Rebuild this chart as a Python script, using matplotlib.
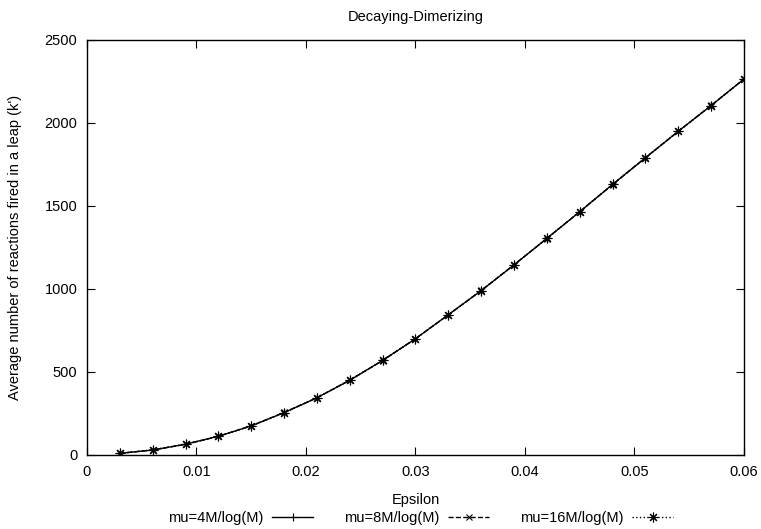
import matplotlib
matplotlib.use("Agg")
import matplotlib.pyplot as plt

plt.rcParams['font.family'] = ['Liberation Sans', 'DejaVu Sans']

# --- data ---
epsilon = [0.003, 0.006, 0.009, 0.012, 0.015, 0.018, 0.021, 0.024, 0.027, 0.030,
           0.033, 0.036, 0.039, 0.042, 0.045, 0.048, 0.051, 0.054, 0.057, 0.060]
mu4 = [10, 30, 65, 113, 175, 255, 345, 450, 570, 700,
       845, 990, 1145, 1305, 1465, 1630, 1790, 1950, 2105, 2265]
mu8 = [10, 30, 64, 112, 176, 256, 344, 451, 569, 701,
       844, 991, 1146, 1304, 1466, 1629, 1791, 1949, 2106, 2264]
mu16 = [10, 31, 65, 113, 175, 255, 345, 450, 570, 700,
        845, 990, 1145, 1305, 1465, 1630, 1790, 1950, 2105, 2265]
labels = ["mu=4M/log(M)", "mu=8M/log(M)", "mu=16M/log(M)"]
xticks = [0, 0.01, 0.02, 0.03, 0.04, 0.05, 0.06]
yticks = [0, 500, 1000, 1500, 2000, 2500]

fig = plt.figure(figsize=(7.61, 5.29), dpi=100)
ax = fig.add_axes([0.1143, 0.1399, 0.8633, 0.7845])

fs = 10.5
ax.plot(epsilon, mu4, color='black', lw=1, ls='-', marker='+', ms=6, mew=0.8, label=labels[0])
ax.plot(epsilon, mu8, color='black', lw=1, ls='--', marker='x', ms=5, mew=0.8, label=labels[1])
ax.plot(epsilon, mu16, color='black', lw=1, ls=':', marker=(8, 2, 0), ms=7, mew=0.8, label=labels[2])

ax.set_xlim(0, 0.06)
ax.set_ylim(0, 2500)
ax.set_xticks(xticks)
ax.set_xticklabels(["0", "0.01", "0.02", "0.03", "0.04", "0.05", "0.06"])
ax.set_yticks(yticks)
ax.tick_params(direction='in', top=True, right=True, length=6, labelsize=fs, pad=7)
for s in ax.spines.values():
    s.set_linewidth(1)

ax.set_title("Decaying-Dimerizing", fontsize=fs, pad=13.5)
ax.set_xlabel("Epsilon", fontsize=fs, labelpad=10)
ax.set_ylabel("Average number of reactions fired in a leap (k')", fontsize=fs, labelpad=16)

ax.legend(loc='upper center', bbox_to_anchor=(0.5076, -0.104), ncol=3, frameon=False,
          markerfirst=False, fontsize=fs, handlelength=2.8, columnspacing=2.1, handletextpad=0.62)

fig.savefig("out.png", dpi=100)
